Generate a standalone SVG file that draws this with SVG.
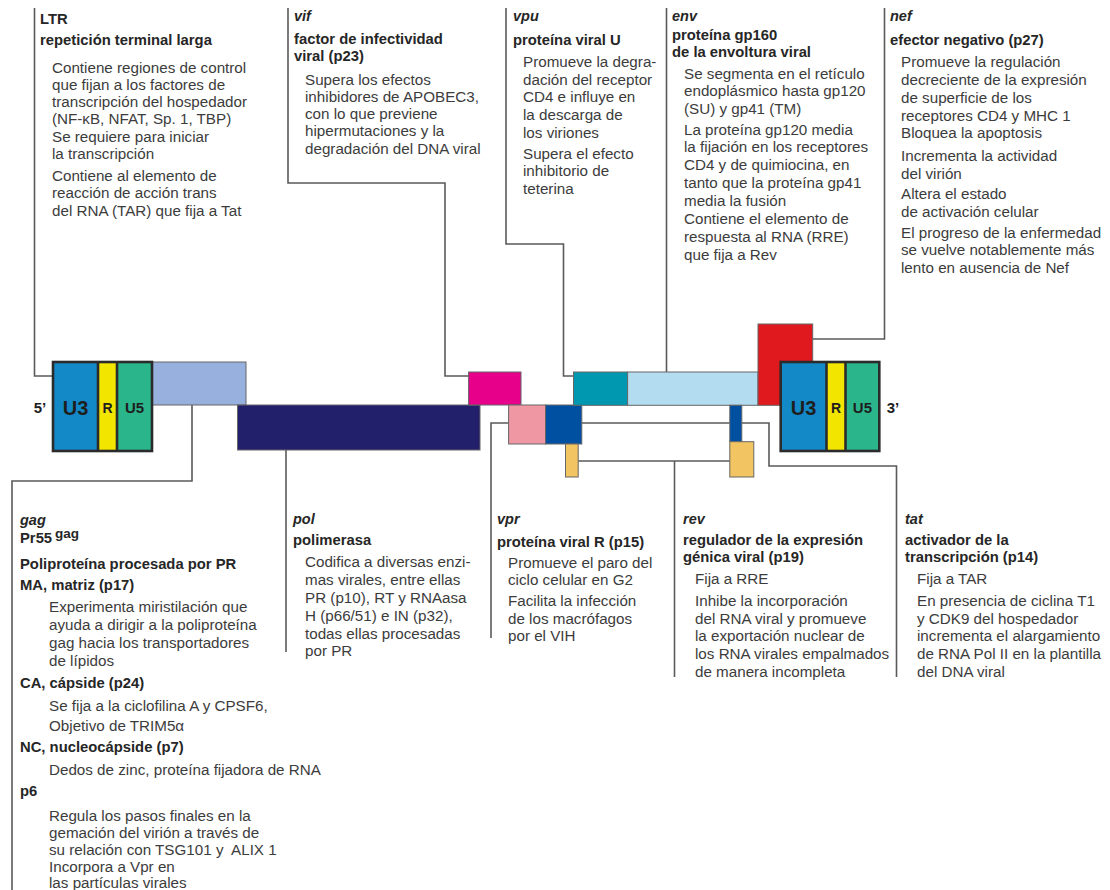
<svg xmlns="http://www.w3.org/2000/svg" width="1110" height="890" viewBox="0 0 1110 890">
<style>
text{font-family:"Liberation Sans",Arial,sans-serif;}
.b{font-size:15.2px;fill:#3c3c3c;}
.h{font-size:14.8px;font-weight:bold;fill:#262626;}
.g{font-size:14.5px;font-weight:bold;font-style:italic;fill:#262626;}
.ln{fill:none;stroke:#5a5a5a;stroke-width:1.6;}
.bx{stroke:#666;stroke-width:1;}
.ltr{stroke:#2b2b2b;stroke-width:2.6;}
.lab{font-weight:bold;fill:#1e1e1e;text-anchor:middle;}
</style>
<rect width="1110" height="890" fill="#fff"/>

<g id="connectors">
<polyline class="ln" points="34.5,8 34.5,376 53,376"/>
<polyline class="ln" points="288,8 288,183 445,183 445,376 469,376"/>
<polyline class="ln" points="506,8 506,244 563.5,244 563.5,376 573.5,376"/>
<polyline class="ln" points="666.5,8 666.5,372"/>
<polyline class="ln" points="884.5,8 884.5,339 812.7,339"/>
<polyline class="ln" points="192,405 192,481 12,481 12,890"/>
<polyline class="ln" points="286,450 286,652"/>
<polyline class="ln" points="508.6,423 491,423 491,638"/>
<polyline class="ln" points="581.8,423 729.8,423"/>
<polyline class="ln" points="741.8,423 769,423 769,466 896.5,466 896.5,677"/>
<polyline class="ln" points="578.2,461 729.8,461"/>
<polyline class="ln" points="674.5,461 674.5,677"/>
</g>

<g id="genome">
<rect class="bx" x="152" y="362" width="94" height="43" fill="#97b0dd"/>
<rect class="bx" x="237.5" y="405" width="242.5" height="45" fill="#221f6b"/>
<rect class="bx" x="468.6" y="372" width="52.4" height="33" fill="#e6008a"/>
<rect class="bx" x="508.6" y="405" width="37" height="39" fill="#f097a4"/>
<rect class="bx" x="545.5" y="405" width="36.3" height="39" fill="#0050a2"/>
<rect class="bx" x="565.5" y="444" width="12.7" height="33" fill="#f2c462"/>
<rect class="bx" x="573.5" y="372" width="54.1" height="33.3" fill="#0098b0"/>
<rect class="bx" x="627.6" y="372" width="130.4" height="33.3" fill="#b3dcf0"/>
<rect class="bx" x="758" y="324" width="54.7" height="81.3" fill="#e0191e"/>
<rect class="bx" x="729.8" y="405.3" width="12" height="36.4" fill="#0050a2"/>
<rect class="bx" x="729.8" y="441.7" width="24" height="35.3" fill="#f2c462"/>
</g>

<g id="ltr5">
<rect x="53" y="362" width="45" height="89" fill="#1489c8"/>
<rect x="98" y="362" width="19" height="89" fill="#f2e600"/>
<rect x="117" y="362" width="35" height="89" fill="#2ab58a"/>
<line class="ltr" x1="98" y1="362" x2="98" y2="451"/>
<line class="ltr" x1="117" y1="362" x2="117" y2="451"/>
<rect class="ltr" x="53" y="362" width="99" height="89" fill="none"/>
<text class="lab" x="75.5" y="415" font-size="20">U3</text>
<text class="lab" x="107.5" y="413" font-size="14">R</text>
<text class="lab" x="134.5" y="413" font-size="15">U5</text>
<text class="lab" x="40" y="413" font-size="15">5’</text>
</g>

<g id="ltr3">
<rect x="780.7" y="362" width="45.8" height="89" fill="#1489c8"/>
<rect x="826.5" y="362" width="19" height="89" fill="#f2e600"/>
<rect x="845.5" y="362" width="33.8" height="89" fill="#2ab58a"/>
<line class="ltr" x1="826.5" y1="362" x2="826.5" y2="451"/>
<line class="ltr" x1="845.5" y1="362" x2="845.5" y2="451"/>
<rect class="ltr" x="780.7" y="362" width="98.6" height="89" fill="none"/>
<text class="lab" x="803.6" y="415" font-size="20">U3</text>
<text class="lab" x="836" y="413" font-size="14">R</text>
<text class="lab" x="862.4" y="413" font-size="15">U5</text>
<text class="lab" x="893" y="413" font-size="15">3’</text>
</g>

<g id="LTR">
<text class="h" x="40" y="24" font-size="18">LTR</text>
<text class="h" x="40" y="45">repetición terminal larga</text>
<text class="b" x="52" y="73">Contiene regiones de control</text>
<text class="b" x="52" y="90">que fijan a los factores de</text>
<text class="b" x="52" y="107">transcripción del hospedador</text>
<text class="b" x="52" y="124">(NF-κB, NFAT, Sp. 1, TBP)</text>
<text class="b" x="52" y="142">Se requiere para iniciar</text>
<text class="b" x="52" y="159">la transcripción</text>
<text class="b" x="52" y="181">Contiene al elemento de</text>
<text class="b" x="52" y="198">reacción de acción trans</text>
<text class="b" x="52" y="216">del RNA (TAR) que fija a Tat</text>
</g>

<g id="vif">
<text class="g" x="294" y="21">vif</text>
<text class="h" x="294" y="44">factor de infectividad</text>
<text class="h" x="294" y="61">viral (p23)</text>
<text class="b" x="305" y="85">Supera los efectos</text>
<text class="b" x="305" y="102">inhibidores de APOBEC3,</text>
<text class="b" x="305" y="119">con lo que previene</text>
<text class="b" x="305" y="136">hipermutaciones y la</text>
<text class="b" x="305" y="154">degradación del DNA viral</text>
</g>

<g id="vpu">
<text class="g" x="513" y="21">vpu</text>
<text class="h" x="513" y="45">proteína viral U</text>
<text class="b" x="523" y="67">Promueve la degra-</text>
<text class="b" x="523" y="85">dación del receptor</text>
<text class="b" x="523" y="102">CD4 e influye en</text>
<text class="b" x="523" y="120">la descarga de</text>
<text class="b" x="523" y="138">los viriones</text>
<text class="b" x="523" y="159">Supera el efecto</text>
<text class="b" x="523" y="176">inhibitorio de</text>
<text class="b" x="523" y="194">teterina</text>
</g>

<g id="env">
<text class="g" x="672" y="21">env</text>
<text class="h" x="672" y="40">proteína gp160</text>
<text class="h" x="672" y="57">de la envoltura viral</text>
<text class="b" x="684" y="79">Se segmenta en el retículo</text>
<text class="b" x="684" y="96">endoplásmico hasta gp120</text>
<text class="b" x="684" y="114">(SU) y gp41 (TM)</text>
<text class="b" x="684" y="135">La proteína gp120 media</text>
<text class="b" x="684" y="152">la fijación en los receptores</text>
<text class="b" x="684" y="170">CD4 y de quimiocina, en</text>
<text class="b" x="684" y="188">tanto que la proteína gp41</text>
<text class="b" x="684" y="206">media la fusión</text>
<text class="b" x="684" y="224">Contiene el elemento de</text>
<text class="b" x="684" y="242">respuesta al RNA (RRE)</text>
<text class="b" x="684" y="260">que fija a Rev</text>
</g>

<g id="nef">
<text class="g" x="890" y="21">nef</text>
<text class="h" x="890" y="45">efector negativo (p27)</text>
<text class="b" x="901" y="67">Promueve la regulación</text>
<text class="b" x="901" y="85">decreciente de la expresión</text>
<text class="b" x="901" y="103">de superficie de los</text>
<text class="b" x="901" y="121">receptores CD4 y MHC 1</text>
<text class="b" x="901" y="138">Bloquea la apoptosis</text>
<text class="b" x="901" y="161">Incrementa la actividad</text>
<text class="b" x="901" y="179">del virión</text>
<text class="b" x="901" y="199">Altera el estado</text>
<text class="b" x="901" y="217">de activación celular</text>
<text class="b" x="901" y="238">El progreso de la enfermedad</text>
<text class="b" x="901" y="255">se vuelve notablemente más</text>
<text class="b" x="901" y="273">lento en ausencia de Nef</text>
</g>

<g id="gag">
<text class="g" x="20" y="525">gag</text>
<text class="h" x="20" y="543">Pr55<tspan font-size="13.5" dx="3" dy="-5">gag</tspan></text>
<text class="h" x="20" y="569">Poliproteína procesada por PR</text>
<text class="h" x="20" y="590">MA, matriz (p17)</text>
<text class="b" x="49" y="612">Experimenta miristilación que</text>
<text class="b" x="49" y="630">ayuda a dirigir a la poliproteína</text>
<text class="b" x="49" y="648">gag hacia los transportadores</text>
<text class="b" x="49" y="666">de lípidos</text>
<text class="h" x="20" y="688">CA, cápside (p24)</text>
<text class="b" x="49" y="711">Se fija a la ciclofilina A y CPSF6,</text>
<text class="b" x="49" y="731">Objetivo de TRIM5α</text>
<text class="h" x="20" y="752">NC, nucleocápside (p7)</text>
<text class="b" x="49" y="775">Dedos de zinc, proteína fijadora de RNA</text>
<text class="h" x="20" y="796">p6</text>
<text class="b" x="49" y="821">Regula los pasos finales en la</text>
<text class="b" x="49" y="838">gemación del virión a través de</text>
<text class="b" x="49" y="855">su relación con TSG101 y&#160; ALIX 1</text>
<text class="b" x="49" y="872">Incorpora a Vpr en</text>
<text class="b" x="49" y="888">las partículas virales</text>
</g>

<g id="pol">
<text class="g" x="293" y="524">pol</text>
<text class="h" x="293" y="545">polimerasa</text>
<text class="b" x="305" y="567">Codifica a diversas enzi-</text>
<text class="b" x="305" y="585">mas virales, entre ellas</text>
<text class="b" x="305" y="603">PR (p10), RT y RNAasa</text>
<text class="b" x="305" y="621">H (p66/51) e IN (p32),</text>
<text class="b" x="305" y="639">todas ellas procesadas</text>
<text class="b" x="305" y="656">por PR</text>
</g>

<g id="vpr">
<text class="g" x="497" y="524">vpr</text>
<text class="h" x="497" y="547">proteína viral R (p15)</text>
<text class="b" x="508" y="568">Promueve el paro del</text>
<text class="b" x="508" y="585">ciclo celular en G2</text>
<text class="b" x="508" y="606">Facilita la infección</text>
<text class="b" x="508" y="624">de los macrófagos</text>
<text class="b" x="508" y="641">por el VIH</text>
</g>

<g id="rev">
<text class="g" x="683" y="524">rev</text>
<text class="h" x="683" y="545">regulador de la expresión</text>
<text class="h" x="683" y="562">génica viral (p19)</text>
<text class="b" x="695" y="584">Fija a RRE</text>
<text class="b" x="695" y="606">Inhibe la incorporación</text>
<text class="b" x="695" y="624">del RNA viral y promueve</text>
<text class="b" x="695" y="641">la exportación nuclear de</text>
<text class="b" x="695" y="659">los RNA virales empalmados</text>
<text class="b" x="695" y="677">de manera incompleta</text>
</g>

<g id="tat">
<text class="g" x="905" y="524">tat</text>
<text class="h" x="905" y="545">activador de la</text>
<text class="h" x="905" y="562">transcripción (p14)</text>
<text class="b" x="917" y="584">Fija a TAR</text>
<text class="b" x="917" y="606">En presencia de ciclina T1</text>
<text class="b" x="917" y="624">y CDK9 del hospedador</text>
<text class="b" x="917" y="641">incrementa el alargamiento</text>
<text class="b" x="917" y="659">de RNA Pol II en la plantilla</text>
<text class="b" x="917" y="677">del DNA viral</text>
</g>
</svg>
